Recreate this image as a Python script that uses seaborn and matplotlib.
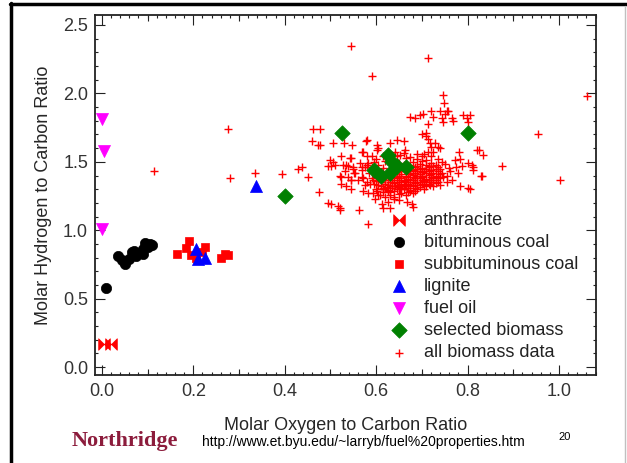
import numpy as np
import pandas as pd
import seaborn as sns
import matplotlib.pyplot as plt
from matplotlib.path import Path
from matplotlib.lines import Line2D
from matplotlib.ticker import MultipleLocator

# ---- values (O/C vs H/C molar ratios) ----
anth_x = [0.005, 0.02]
anth_y = [0.17, 0.17]

bit_x = [0.01, 0.035, 0.045, 0.05, 0.06, 0.065, 0.07, 0.075, 0.09, 0.095, 0.10, 0.105, 0.11, 0.09]
bit_y = [0.58, 0.81, 0.78, 0.75, 0.79, 0.84, 0.85, 0.81, 0.86, 0.91, 0.88, 0.90, 0.89, 0.83]

sub_x = [0.165, 0.185, 0.19, 0.195, 0.205, 0.22, 0.225, 0.26, 0.27, 0.275]
sub_y = [0.83, 0.87, 0.92, 0.82, 0.80, 0.84, 0.88, 0.80, 0.83, 0.82]

lig_x = [0.205, 0.21, 0.225, 0.337]
lig_y = [0.86, 0.79, 0.80, 1.32]

oil_x = [0.0, 0.005, 0.0]
oil_y = [1.81, 1.58, 1.01]

sel_x = [0.40, 0.525, 0.80, 0.595, 0.61, 0.625, 0.63, 0.635, 0.645, 0.665]
sel_y = [1.25, 1.71, 1.71, 1.44, 1.40, 1.55, 1.42, 1.50, 1.47, 1.46]

# all biomass data: scattered points around the main cloud
bio_x = [0.115, 0.276, 0.280, 0.335, 0.395, 0.428, 0.437, 0.451, 0.462, 0.478,
         0.460, 0.473, 0.478, 0.476, 0.495, 0.517, 0.522, 0.562, 0.583, 0.544,
         0.714, 0.592, 0.747, 1.062, 0.953, 0.876, 1.002, 0.80, 0.831, 0.506,
         0.53, 0.548, 0.578, 0.603, 0.499, 0.502, 0.495, 0.524, 0.546, 0.539,
         0.528, 0.568, 0.590, 0.521, 0.544, 0.552, 0.534, 0.524, 0.546, 0.575,
         0.570,
         # upper-right group
         0.674, 0.685, 0.696, 0.703, 0.721, 0.725, 0.74, 0.751, 0.754, 0.765,
         0.743, 0.747, 0.714, 0.805, 0.791, 0.801, 0.748, 0.758, 0.769, 0.798,
         0.70, 0.709, 0.718, 0.729, 0.736, 0.721, 0.714, 0.71,
         # right of cloud
         0.772, 0.775, 0.761, 0.747, 0.754, 0.74, 0.781, 0.783, 0.787, 0.778,
         0.801, 0.81, 0.812, 0.82, 0.825, 0.834, 0.829, 0.765, 0.783, 0.812,
         # above cloud
         0.579, 0.601, 0.63, 0.645, 0.66, 0.663, 0.641, 0.652, 0.572, 0.601,
         0.725, 0.714, 0.74,
         # left of cloud
         0.506, 0.51, 0.535, 0.532, 0.55, 0.568, 0.579, 0.524, 0.546, 0.572,
         0.579, 0.575, 0.586, 0.594, 0.543, 0.55, 0.565, 0.569, 0.580, 0.583,
         0.554, 0.539, 0.561,
         # below cloud
         0.572, 0.583, 0.594, 0.601, 0.608, 0.616, 0.623, 0.63, 0.597, 0.612,
         0.627, 0.638, 0.502, 0.521, 0.616, 0.627, 0.641, 0.652, 0.663, 0.674,
         0.681, 0.619, 0.638, 0.649, 0.667, 0.678, 0.681, 0.63, 0.718, 0.725,
         0.805]
bio_y = [1.43, 1.74, 1.38, 1.42, 1.41, 1.45, 1.46, 1.39, 1.74, 1.74,
         1.65, 1.62, 1.62, 1.28, 1.20, 1.18, 1.15, 1.15, 1.045, 2.35,
         2.26, 2.13, 1.99, 1.98, 1.70, 1.47, 1.37, 1.31, 1.40, 1.64,
         1.64, 1.62, 1.65, 1.60, 1.51, 1.47, 1.47, 1.54, 1.53, 1.47,
         1.48, 1.57, 1.54, 1.40, 1.37, 1.42, 1.32, 1.34, 1.30, 1.46,
         1.39,
         1.825, 1.82, 1.84, 1.85, 1.87, 1.83, 1.87, 1.85, 1.87, 1.82,
         1.82, 1.79, 1.78, 1.84, 1.84, 1.79, 1.93, 1.875, 1.80, 1.82,
         1.70, 1.69, 1.635, 1.635, 1.61, 1.61, 1.67, 1.71,
         1.51, 1.46, 1.43, 1.39, 1.355, 1.33, 1.57, 1.52, 1.47, 1.415,
         1.49, 1.48, 1.44, 1.59, 1.585, 1.55, 1.40, 1.37, 1.32, 1.465,
         1.66, 1.62, 1.635, 1.66, 1.65, 1.585, 1.575, 1.55, 1.57, 1.585,
         1.575, 1.575, 1.60,
         1.50, 1.48, 1.48, 1.43, 1.45, 1.46, 1.48, 1.39, 1.37, 1.38,
         1.355, 1.33, 1.34, 1.37, 1.525, 1.465, 1.49, 1.44, 1.54, 1.49,
         1.415, 1.39, 1.37,
         1.29, 1.27, 1.27, 1.29, 1.26, 1.305, 1.315, 1.28, 1.23, 1.195,
         1.21, 1.245, 1.195, 1.16, 1.16, 1.29, 1.32, 1.305, 1.32, 1.29,
         1.27, 1.245, 1.23, 1.22, 1.21, 1.195, 1.17, 1.16, 1.33, 1.32,
         1.305]

# all biomass data: the dense core of the cloud
core_x = [0.625, 0.66, 0.69, 0.705,
          0.615, 0.645, 0.675, 0.70, 0.72,
          0.60, 0.63, 0.665, 0.69, 0.71, 0.735,
          0.595, 0.62, 0.65, 0.68, 0.70, 0.72, 0.745,
          0.605, 0.64, 0.66, 0.675, 0.695, 0.71, 0.73, 0.75,
          0.59, 0.615, 0.655, 0.685, 0.70, 0.715, 0.735, 0.76,
          0.60, 0.63, 0.665, 0.68, 0.695, 0.705, 0.72, 0.74,
          0.585, 0.61, 0.645, 0.67, 0.685, 0.70, 0.71, 0.725, 0.745,
          0.60, 0.625, 0.65, 0.665, 0.68, 0.69, 0.70, 0.715, 0.73, 0.755,
          0.59, 0.615, 0.64, 0.655, 0.67, 0.685, 0.695, 0.71, 0.725, 0.74,
          0.605, 0.63, 0.645, 0.66, 0.675, 0.69, 0.705, 0.72, 0.735,
          0.595, 0.62, 0.64, 0.655, 0.67, 0.685, 0.70, 0.715, 0.73,
          0.61, 0.635, 0.65, 0.665, 0.68, 0.695, 0.71,
          0.60, 0.625, 0.645, 0.66, 0.675, 0.69, 0.705,
          0.615, 0.64, 0.655, 0.67, 0.685,
          0.605, 0.63, 0.65, 0.665,
          # densest part, between the rows above
          0.665, 0.69, 0.715, 0.725,
          0.67, 0.69, 0.71, 0.73,
          0.655, 0.675, 0.69, 0.715, 0.735,
          0.615, 0.635, 0.655, 0.675, 0.695, 0.72, 0.74,
          0.605, 0.625, 0.645, 0.665, 0.68, 0.70, 0.72, 0.735,
          0.60, 0.62, 0.635, 0.65, 0.665, 0.68, 0.70, 0.715, 0.73,
          0.61, 0.63, 0.65, 0.665, 0.68, 0.695, 0.71, 0.725,
          0.605, 0.625, 0.645, 0.66, 0.675, 0.69, 0.705,
          0.615, 0.635, 0.655, 0.67, 0.685]
core_y = [1.56, 1.565, 1.555, 1.56,
          1.54, 1.545, 1.535, 1.545, 1.54,
          1.52, 1.515, 1.525, 1.52, 1.515, 1.52,
          1.50, 1.505, 1.495, 1.50, 1.505, 1.495, 1.50,
          1.48, 1.485, 1.475, 1.48, 1.485, 1.475, 1.48, 1.485,
          1.46, 1.455, 1.465, 1.46, 1.455, 1.465, 1.46, 1.455,
          1.44, 1.445, 1.435, 1.44, 1.445, 1.435, 1.44, 1.445,
          1.42, 1.415, 1.425, 1.42, 1.415, 1.425, 1.42, 1.415, 1.42,
          1.40, 1.405, 1.395, 1.40, 1.405, 1.395, 1.40, 1.405, 1.395, 1.40,
          1.38, 1.375, 1.385, 1.38, 1.375, 1.385, 1.38, 1.375, 1.385, 1.38,
          1.36, 1.365, 1.355, 1.36, 1.365, 1.355, 1.36, 1.365, 1.355,
          1.34, 1.335, 1.345, 1.34, 1.335, 1.345, 1.34, 1.335, 1.345,
          1.32, 1.325, 1.315, 1.32, 1.325, 1.315, 1.32,
          1.30, 1.295, 1.305, 1.30, 1.295, 1.305, 1.30,
          1.28, 1.285, 1.275, 1.28, 1.285,
          1.26, 1.255, 1.265, 1.26,
          1.47, 1.47, 1.47, 1.47,
          1.45, 1.45, 1.45, 1.45,
          1.43, 1.43, 1.43, 1.43, 1.43,
          1.41, 1.41, 1.41, 1.41, 1.41, 1.41, 1.41,
          1.39, 1.39, 1.39, 1.39, 1.39, 1.39, 1.39, 1.39,
          1.37, 1.37, 1.37, 1.37, 1.37, 1.37, 1.37, 1.37, 1.37,
          1.35, 1.35, 1.35, 1.35, 1.35, 1.35, 1.35, 1.35,
          1.33, 1.33, 1.33, 1.33, 1.33, 1.33, 1.33,
          1.31, 1.31, 1.31, 1.31, 1.31]

labels = ["anthracite", "bituminous coal", "subbituminous coal", "lignite",
          "fuel oil", "selected biomass", "all biomass data"]

# bow-tie marker for anthracite
bowtie = Path([(-1, -1), (0, 0), (-1, 1), (-1, -1), (1, 1), (0, 0), (1, -1), (1, 1)],
              [Path.MOVETO, Path.LINETO, Path.LINETO, Path.CLOSEPOLY,
               Path.MOVETO, Path.LINETO, Path.LINETO, Path.CLOSEPOLY])

sns.set_style("ticks")
plt.rcParams['font.family'] = ['Liberation Sans', 'DejaVu Sans']
plt.rcParams['text.color'] = '#222222'

fig = plt.figure(figsize=(6.27, 4.63), dpi=100)
ax = fig.add_axes([0.1515, 0.19, 0.7991, 0.7776])

bio = pd.DataFrame({"x": bio_x + core_x, "y": bio_y + core_y})
sns.scatterplot(data=bio, x="x", y="y", marker="+", color="red", s=30,
                linewidth=1.0, label=labels[6], ax=ax, zorder=2)

groups = [
    (anth_x, anth_y, labels[0], bowtie, "red", 70),
    (bit_x, bit_y, labels[1], "o", "black", 55),
    (sub_x, sub_y, labels[2], "s", "red", 40),
    (lig_x, lig_y, labels[3], "^", "blue", 75),
    (oil_x, oil_y, labels[4], "v", "magenta", 75),
    (sel_x, sel_y, labels[5], "D", "green", 62),
]
for gx, gy, lab, mk, col, size in groups:
    d = pd.DataFrame({"x": gx, "y": gy})
    sns.scatterplot(data=d, x="x", y="y", marker=mk, color=col, s=size,
                    edgecolor=col, linewidth=0.5, label=lab, ax=ax, zorder=3)

ax.set_xlim(-0.015, 1.081)
ax.set_ylim(-0.058, 2.573)
ax.xaxis.set_major_locator(MultipleLocator(0.2))
ax.xaxis.set_minor_locator(MultipleLocator(0.02))
ax.yaxis.set_major_locator(MultipleLocator(0.5))
ax.yaxis.set_minor_locator(MultipleLocator(0.1))
ax.xaxis.set_major_formatter(plt.FuncFormatter(lambda v, p: f"{v:.1f}"))
ax.yaxis.set_major_formatter(plt.FuncFormatter(lambda v, p: f"{v:.1f}"))
ax.tick_params(which="both", direction="in", top=True, right=True,
               width=0.8, color="#222222", labelsize=13, labelcolor="#333333")
ax.tick_params(which="major", length=7)
ax.tick_params(which="minor", length=2.5)
ax.tick_params(axis="x", pad=6)
ax.tick_params(axis="y", pad=5)
for s in ax.spines.values():
    s.set_linewidth(1.3)
    s.set_color("#222222")

# medium ticks at odd tenths on the x axis
for side in ("top", "bottom"):
    sec = ax.secondary_xaxis(side)
    sec.set_xticks([0.1, 0.3, 0.5, 0.7, 0.9])
    sec.tick_params(direction="in", length=4.5, width=0.8, color="#222222",
                    labelbottom=False, labeltop=False)
    sec.spines[side].set_visible(False)

ax.set_xlabel("Molar Oxygen to Carbon Ratio", fontsize=13, labelpad=12)
ax.set_ylabel("Molar Hydrogen to Carbon Ratio", fontsize=13, labelpad=8)

h, l = ax.get_legend_handles_labels()
order = [l.index(x) for x in labels]
ax.legend([h[i] for i in order], [l[i] for i in order],
          loc="upper left", bbox_to_anchor=(0.58, 0.453), frameon=False,
          fontsize=13, borderpad=0, borderaxespad=0, handlelength=1.5,
          handletextpad=0.6, labelspacing=0.28)

# slide decorations
fig.add_artist(Line2D([10 / 627, 1], [1 - 4 / 463, 1 - 4 / 463],
                      transform=fig.transFigure, color="black", lw=2.5))
fig.add_artist(Line2D([11 / 627, 11 / 627], [0, 1 - 3 / 463],
                      transform=fig.transFigure, color="black", lw=2.5))
fig.add_artist(Line2D([625 / 627, 625 / 627], [0, 1 - 6 / 463],
                      transform=fig.transFigure, color="#c0c0c0", lw=1))
fig.text(72 / 627, 1 - 441 / 463, "Northridge", fontsize=16, fontweight="bold",
         family="Liberation Serif", color="#8c1c3c", va="center", ha="left")
fig.text(202 / 627, 1 - 442 / 463,
         "http://www.et.byu.edu/~larryb/fuel%20properties.htm",
         fontsize=10, color="black", va="center", ha="left")
fig.text(565 / 627, 1 - 437 / 463, "20", fontsize=8, color="black",
         va="center", ha="center")

fig.savefig("out.png", dpi=100)
